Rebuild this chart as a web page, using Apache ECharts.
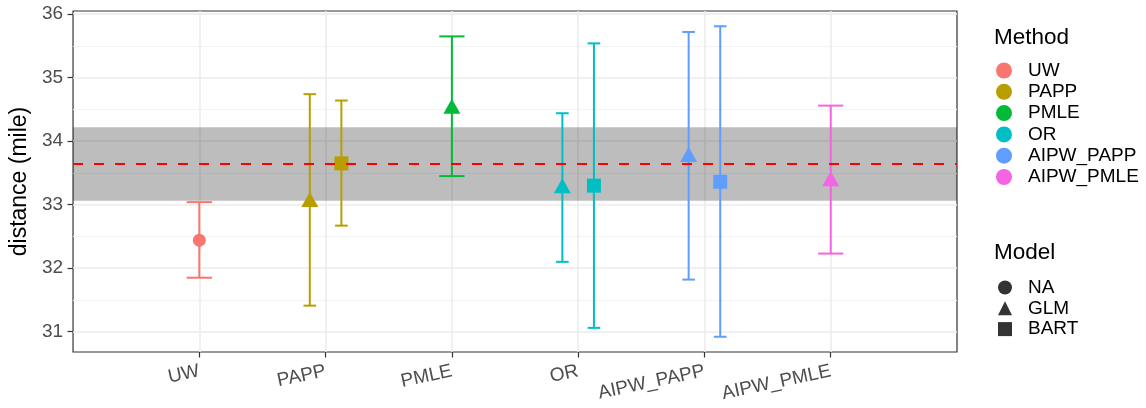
<!DOCTYPE html>
<html>
<head>
<meta charset="utf-8">
<script src="https://cdn.jsdelivr.net/npm/echarts@6/dist/echarts.min.js"></script>
<style>
  html, body { margin: 0; padding: 0; background: #fff; }
  #chart { width: 1146px; height: 408px; }
</style>
</head>
<body>
<div id="chart"></div>
<script>
const methods = ['UW', 'PAPP', 'PMLE', 'OR', 'AIPW_PAPP', 'AIPW_PMLE'];
const methodColors = ['#F8766D', '#B79F00', '#00BA38', '#00BFC4', '#619CFF', '#F564E3'];
const models = ['NA', 'GLM', 'BART'];
const modelSymbols = ['circle', 'triangle', 'rect'];

// one entry per estimate
const estMethod = ['UW', 'PAPP', 'PAPP', 'PMLE', 'OR', 'OR', 'AIPW_PAPP', 'AIPW_PAPP', 'AIPW_PMLE'];
const estModel = ['NA', 'GLM', 'BART', 'GLM', 'GLM', 'BART', 'GLM', 'BART', 'GLM'];
const estValue = [32.44, 33.08, 33.65, 34.55, 33.30, 33.30, 33.79, 33.36, 33.41];
const estLower = [31.85, 31.41, 32.67, 33.45, 32.10, 31.06, 31.82, 30.92, 32.23];
const estUpper = [33.04, 34.74, 34.64, 35.65, 34.44, 35.54, 35.72, 35.81, 34.56];

// true value and its band
const truthValue = 33.64;
const truthBand = [33.06, 34.22];

const yTicks = [31, 32, 33, 34, 35, 36];
const yMinor = [30.5, 31.5, 32.5, 33.5, 34.5, 35.5];

const FONT = 'Liberation Sans, Arial, sans-serif';
const dodgeWidth = 0.5;
const barWidth = 0.2;

const chart = echarts.init(document.getElementById('chart'), null, { renderer: 'canvas' });

// dodge positions like ggplot position_dodge
function buildRows(methodIdx) {
  const name = methods[methodIdx];
  const idx = [];
  estMethod.forEach((m, i) => { if (m === name) idx.push(i); });
  const n = idx.length;
  return idx.map((i, j) => ({
    x: methodIdx + (j - (n - 1) / 2) * dodgeWidth / n,
    cap: barWidth / n,
    i: i
  }));
}

const series = [];
methods.forEach((m, k) => {
  const rows = buildRows(k);
  series.push({
    name: m,
    type: 'custom',
    z: 2,
    silent: true,
    itemStyle: { color: methodColors[k] },
    data: rows.map(r => [r.x, estLower[r.i], estUpper[r.i], r.cap]),
    renderItem: function (params, api) {
      const x = api.value(0);
      const lo = api.coord([x, api.value(1)]);
      const hi = api.coord([x, api.value(2)]);
      const half = api.size([api.value(3), 0])[0] / 2;
      const style = { stroke: methodColors[k], lineWidth: 2, fill: null };
      return {
        type: 'group',
        children: [
          { type: 'line', shape: { x1: lo[0], y1: lo[1], x2: hi[0], y2: hi[1] }, style: style },
          { type: 'line', shape: { x1: lo[0] - half, y1: lo[1], x2: lo[0] + half, y2: lo[1] }, style: style },
          { type: 'line', shape: { x1: hi[0] - half, y1: hi[1], x2: hi[0] + half, y2: hi[1] }, style: style }
        ]
      };
    }
  });
  series.push({
    name: m,
    type: 'scatter',
    z: 3,
    silent: true,
    itemStyle: { color: methodColors[k], opacity: 1 },
    data: rows.map(r => {
      const s = modelSymbols[models.indexOf(estModel[r.i])];
      return {
        value: [r.x, estValue[r.i]],
        symbol: s,
        symbolSize: s === 'triangle' ? [17, 15] : (s === 'rect' ? 14 : 13)
      };
    })
  });
});

// model legend entries
models.forEach((md, k) => {
  series.push({
    name: md,
    type: 'scatter',
    symbol: modelSymbols[k],
    itemStyle: { color: '#000' },
    data: []
  });
});

// truth band + dashed reference line, drawn over the points
series.push({
  name: 'truth',
  type: 'line',
  z: 5,
  silent: true,
  data: [],
  markArea: {
    silent: true,
    itemStyle: { color: 'rgba(0,0,0,0.26)' },
    data: [[{ yAxis: truthBand[0] }, { yAxis: truthBand[1] }]]
  },
  markLine: {
    silent: true,
    symbol: 'none',
    label: { show: false },
    lineStyle: { color: '#FF0000', width: 2, type: [10, 11] },
    data: [{ yAxis: truthValue }]
  }
});

const titleStyle = { fontFamily: FONT, fontSize: 22.5, fontWeight: 'normal', color: '#000' };
const legendText = { fontFamily: FONT, fontSize: 19, color: '#000' };

const option = {
  backgroundColor: '#fff',
  animation: false,
  textStyle: { fontFamily: FONT },
  grid: {
    left: 73, right: 189, top: 11, bottom: 56,
    show: true, borderColor: '#333', borderWidth: 1.2, backgroundColor: '#fff'
  },
  title: [
    { text: 'Method', left: 994, top: 26, padding: 0, textStyle: titleStyle },
    { text: 'Model', left: 994, top: 241, padding: 0, textStyle: titleStyle }
  ],
  legend: [
    {
      data: methods.map(m => ({ name: m, icon: 'circle' })),
      orient: 'vertical', left: 996, top: 61, padding: 0,
      itemWidth: 16, itemHeight: 16, itemGap: 2.3,
      selectedMode: false,
      textStyle: Object.assign({}, legendText, { padding: [0, 0, 0, 11] })
    },
    {
      data: models.map((m, k) => ({ name: m, icon: modelSymbols[k] })),
      orient: 'vertical', left: 998, top: 278, padding: 0,
      itemWidth: 14, itemHeight: 14, itemGap: 1.8,
      selectedMode: false,
      textStyle: Object.assign({}, legendText, { padding: [0, 0, 0, 11] })
    }
  ],
  xAxis: {
    type: 'value',
    min: -1, max: 6, interval: 1,
    axisLine: { show: false, onZero: false },
    axisTick: { show: true, length: 5.5, customValues: [0, 1, 2, 3, 4, 5],
      lineStyle: { color: '#333', width: 1.2 } },
    axisLabel: {
      customValues: [0, 1, 2, 3, 4, 5],
      formatter: v => methods[v] || '',
      rotate: 12, margin: 19,
      color: '#4D4D4D', fontSize: 19, fontFamily: FONT
    },
    splitLine: { show: true, lineStyle: { color: '#EBEBEB', width: 1.5 } }
  },
  yAxis: [
    {
      type: 'value',
      min: 30.68, max: 36.05,
      name: 'distance (mile)', nameLocation: 'middle', nameGap: 38,
      nameTextStyle: { fontFamily: FONT, fontSize: 23, color: '#000' },
      axisLine: { show: false, onZero: false },
      axisTick: { show: true, length: 5.5, customValues: yTicks,
        lineStyle: { color: '#333', width: 1.2 } },
      axisLabel: { customValues: yTicks, color: '#4D4D4D', fontSize: 19, fontFamily: FONT, margin: 10 },
      splitLine: { show: true, lineStyle: { color: '#EBEBEB', width: 1.5 } }
    },
    {
      type: 'value',
      min: 30.68, max: 36.05,
      position: 'left',
      axisLine: { show: false, onZero: false },
      axisTick: { show: false, customValues: yMinor },
      axisLabel: { show: false, customValues: yMinor },
      splitLine: { show: true, lineStyle: { color: '#F3F3F3', width: 1 } }
    }
  ],
  series: series
};

chart.setOption(option);
</script>
</body>
</html>
